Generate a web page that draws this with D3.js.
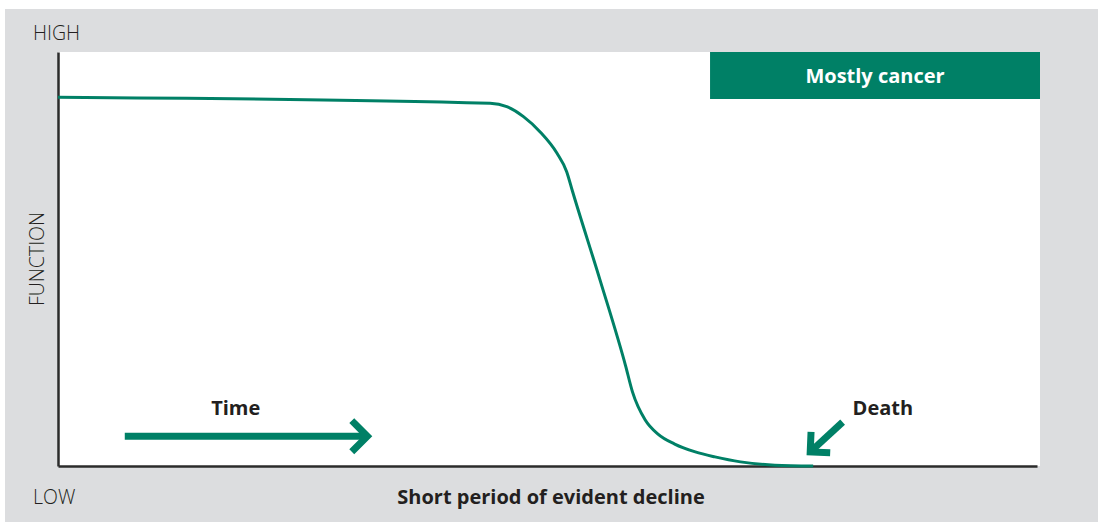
<!DOCTYPE html>
<html>
<head>
<meta charset="utf-8">
<script src="https://cdn.jsdelivr.net/npm/d3@7"></script>
<style>
  html, body { margin: 0; padding: 0; background: #ffffff; }
  svg { display: block; }
  text { font-family: "Open Sans", "DejaVu Sans", sans-serif; fill: #231f20; }
</style>
</head>
<body>
<div id="chart"></div>
<script>
// curve: time (0-100) vs function (0-100)
var timeValues = [0, 44.0, 45.7, 47.4, 49.1, 50.8, 51.8, 52.4, 55.2, 57.8, 58.5, 59.8, 61.1, 62.8, 64.9, 66.9, 69.5, 73.0, 76.9];
var functionValues = [89.1, 87.6, 86.8, 84.4, 80.7, 75.6, 71.1, 66.3, 44.9, 24.2, 17.9, 11.1, 7.7, 5.3, 3.4, 2.2, 1.0, 0.2, 0];

var yLabels = ["HIGH", "LOW"];
var yTitle = "FUNCTION";
var xTitle = "Short period of evident decline";
var boxLabel = "Mostly cancer";

// annotations: [x, y] in data units
var timeArrow = [[6.8, 7.2], [31.5, 7.2]];
var deathArrow = [[79.9, 10.6], [76.6, 3.4]];
var timeLabel = { text: "Time", x: 18.1, y: 12.4 };
var deathLabel = { text: "Death", x: 84.0, y: 12.4 };

var width = 1101, height = 526;
var green = "#008066";

var svg = d3.select("#chart").append("svg")
    .attr("width", width)
    .attr("height", height);

// grey panel
svg.append("rect")
    .attr("x", 5).attr("y", 9)
    .attr("width", 1093).attr("height", 513)
    .attr("fill", "#dcdddf");

var x = d3.scaleLinear().domain([0, 100]).range([58, 1040]);
var y = d3.scaleLinear().domain([0, 100]).range([466, 52]);

// white plot area
svg.append("rect")
    .attr("x", x(0)).attr("y", y(100))
    .attr("width", x(100) - x(0)).attr("height", y(0) - y(100))
    .attr("fill", "#ffffff");

// box in top right
svg.append("rect")
    .attr("x", x(66.4)).attr("y", y(100))
    .attr("width", x(100) - x(66.4)).attr("height", 47)
    .attr("fill", green);

svg.append("text")
    .attr("x", (x(66.4) + x(100)) / 2)
    .attr("y", y(100) + 31)
    .attr("text-anchor", "middle")
    .style("font-weight", 700)
    .style("font-size", "20px")
    .style("fill", "#ffffff")
    .text(boxLabel);

// axes without ticks
svg.append("g")
    .attr("transform", "translate(0," + y(0) + ")")
    .call(d3.axisBottom(x.copy().range([58, 1037])).tickValues([]).tickSizeOuter(0));
svg.append("g")
    .attr("transform", "translate(" + x(0) + ",0)")
    .call(d3.axisLeft(y).tickValues([]).tickSizeOuter(0));
svg.selectAll(".domain")
    .attr("stroke", "#2b2b2b")
    .attr("stroke-width", 2.5);

// the curve
var pts = timeValues.map(function(t, i) { return [t, functionValues[i]]; });
var line = d3.line()
    .x(function(d) { return x(d[0]); })
    .y(function(d) { return y(d[1]); })
    .curve(d3.curveMonotoneX);

svg.append("path")
    .datum(pts)
    .attr("d", line)
    .attr("fill", "none")
    .attr("stroke", green)
    .attr("stroke-width", 3);

// arrows
function drawArrow(a, b, head) {
    var x1 = x(a[0]), y1 = y(a[1]), x2 = x(b[0]), y2 = y(b[1]);
    var ang = Math.atan2(y2 - y1, x2 - x1);
    svg.append("line")
        .attr("x1", x1).attr("y1", y1)
        .attr("x2", x2 - 4 * Math.cos(ang)).attr("y2", y2 - 4 * Math.sin(ang))
        .attr("stroke", green)
        .attr("stroke-width", 7);
    var p1 = [x2 - head * Math.cos(ang - Math.PI / 4), y2 - head * Math.sin(ang - Math.PI / 4)];
    var p2 = [x2 - head * Math.cos(ang + Math.PI / 4), y2 - head * Math.sin(ang + Math.PI / 4)];
    svg.append("path")
        .attr("d", "M" + p1 + "L" + [x2, y2] + "L" + p2)
        .attr("fill", "none")
        .attr("stroke", green)
        .attr("stroke-width", 7)
        .attr("stroke-linejoin", "miter");
}
drawArrow(timeArrow[0], timeArrow[1], 22);
drawArrow(deathArrow[0], deathArrow[1], 20);

[timeLabel, deathLabel].forEach(function(l) {
    svg.append("text")
        .attr("x", x(l.x)).attr("y", y(l.y))
        .attr("text-anchor", "middle")
        .style("font-weight", 700)
        .style("font-size", "20px")
        .text(l.text);
});

// axis labels
svg.append("text")
    .attr("x", 33).attr("y", 40)
    .style("font-weight", 300).style("font-size", "19.5px")
    .text(yLabels[0]);
svg.append("text")
    .attr("x", 33).attr("y", 504)
    .style("font-weight", 300).style("font-size", "19.5px")
    .text(yLabels[1]);
svg.append("text")
    .attr("transform", "translate(44," + ((y(0) + y(100)) / 2) + ") rotate(-90)")
    .attr("text-anchor", "middle")
    .style("font-weight", 300).style("font-size", "19.5px")
    .text(yTitle);
svg.append("text")
    .attr("x", 551).attr("y", 504)
    .attr("text-anchor", "middle")
    .style("font-weight", 700).style("font-size", "20px")
    .text(xTitle);
</script>
</body>
</html>
